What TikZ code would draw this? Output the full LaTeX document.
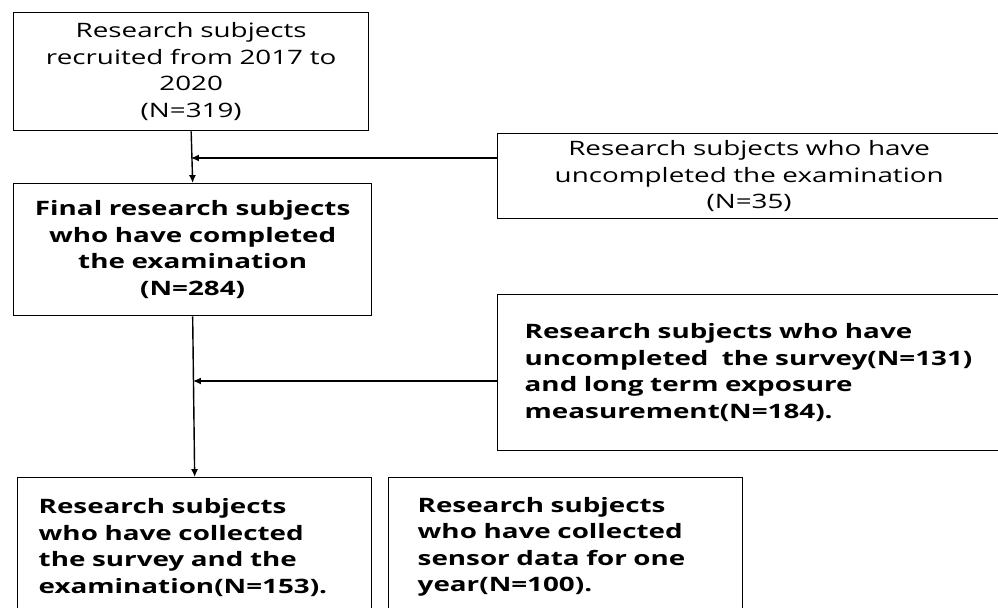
\documentclass[tikz,border=0pt]{standalone}
\usepackage{fontspec}
\setmainfont{Open Sans}[FakeStretch=1.4]
\usetikzlibrary{arrows.meta}
\tikzset{
  box/.style={draw, line width=0.8pt, anchor=north west, inner ysep=0pt,
    font=\fontsize{11.3}{15.1}\selectfont},
  flow/.style={line width=0.8pt, -{Latex[length=4.5pt,width=4pt]}}
}

\begin{document}
\begin{tikzpicture}[x=0.02cm,y=-0.02cm]
  \useasboundingbox (0,0) rectangle (998,608);
  \clip (0,0) rectangle (998,608);
  \node[box, align=center, minimum width=7.1cm, minimum height=2.36cm, text width=6.8cm] (start) at (13,12)
    {Research subjects\\ recruited from 2017 to\\ 2020\\ (N=319)};
  \node[box, align=center, minimum width=7.16cm, minimum height=2.64cm, text width=6.9cm] (final) at (13,183)
    {\bfseries Final research subjects\\ who have completed\\ the examination\\ (N=284)};
  \node[box, align=center, minimum width=10.06cm, minimum height=1.7cm, text width=9.6cm] (excl1) at (497,133)
    {Research subjects who have\\ uncompleted the examination\\ (N=35)};
  \node[box, align=left, minimum width=10.48cm, minimum height=3.12cm, inner xsep=0.54cm, text width=9.4cm] (excl2) at (497,294)
    {\bfseries Research subjects who have\\ uncompleted\ \ the survey(N=131)\\ and long term exposure\\ measurement(N=184).};
  \node[box, align=left, minimum width=7.08cm, minimum height=2.8cm, inner xsep=0.42cm, text width=6.24cm] (survey) at (17,477)
    {\bfseries Research subjects\\ who have collected\\ the survey and the\\ examination(N=153).};
  \node[box, align=left, minimum width=7.08cm, minimum height=2.76cm, inner xsep=0.58cm, text width=5.92cm] (sensor) at (388,477)
    {\bfseries Research subjects\\ who have collected\\ sensor data for one\\ year(N=100).};

  \coordinate (m1) at (191,158);
  \coordinate (m2) at (193,381);
  \draw[flow] (start.south) -- (final.north);
  \draw[flow] (excl1.west |- m1) -- (m1);
  \draw[flow] (final.south) -- (survey.north);
  \draw[flow] (excl2.west |- m2) -- (m2);
\end{tikzpicture}
\end{document}
